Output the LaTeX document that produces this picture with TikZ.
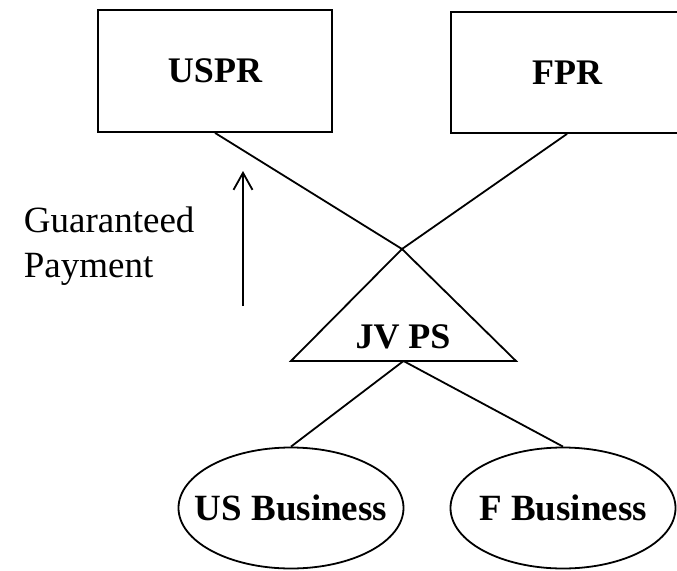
\documentclass[tikz,border=0pt]{standalone}
\usepackage{fontspec}
\setmainfont{Liberation Serif}
\usetikzlibrary{arrows.meta,shapes.geometric}
\begin{document}
\begin{tikzpicture}[x=1pt,y=-1pt,
  line width=1.8pt,
  boxnode/.style={draw,rectangle,inner sep=0pt,font=\fontsize{36}{43}\selectfont\bfseries},
  ellnode/.style={draw,ellipse,minimum width=225pt,minimum height=121pt,inner sep=0pt,font=\fontsize{37}{44}\selectfont\bfseries},
  lbl/.style={font=\fontsize{37}{45}\selectfont,inner sep=0pt}]
\useasboundingbox (0,0) rectangle (677,570);
\clip (0,0) rectangle (677,570);
% boxes
\node[boxnode,minimum width=234pt,minimum height=122pt] (uspr) at (215,71) {USPR};
\node[boxnode,minimum width=232pt,minimum height=121pt] (fpr) at (567,72.5) {FPR};
% triangle
\coordinate (apex) at (402,249);
\coordinate (bl) at (291,361);
\coordinate (br) at (516,361);
\coordinate (bm) at (403.5,361);
\draw (apex) -- (br) -- (bl) -- cycle;
\node[font=\fontsize{36}{43}\selectfont\bfseries,inner sep=0pt] (jv) at (403,337) {JV PS};
% connectors to owners
\draw (uspr.south) -- (apex);
\draw (fpr.south) -- (apex);
% ellipses
\node[ellnode] (usb) at (291,508) {\makebox[0pt]{US Business}};
\node[ellnode] (fb) at (563,508) {\makebox[0pt]{F Business}};
\draw (bm) -- (usb.north);
\draw (bm) -- (fb.north);
% guaranteed payment arrow
\coordinate (gpS) at (243,306);
\coordinate (gpE) at (243,171);
\draw[-{Straight Barb[length=17pt,width=19pt]}] (gpS) -- (gpE);
\node[lbl,align=left,anchor=base west] (gp) at (23,277) {Guaranteed\\Payment};
\end{tikzpicture}
\end{document}
